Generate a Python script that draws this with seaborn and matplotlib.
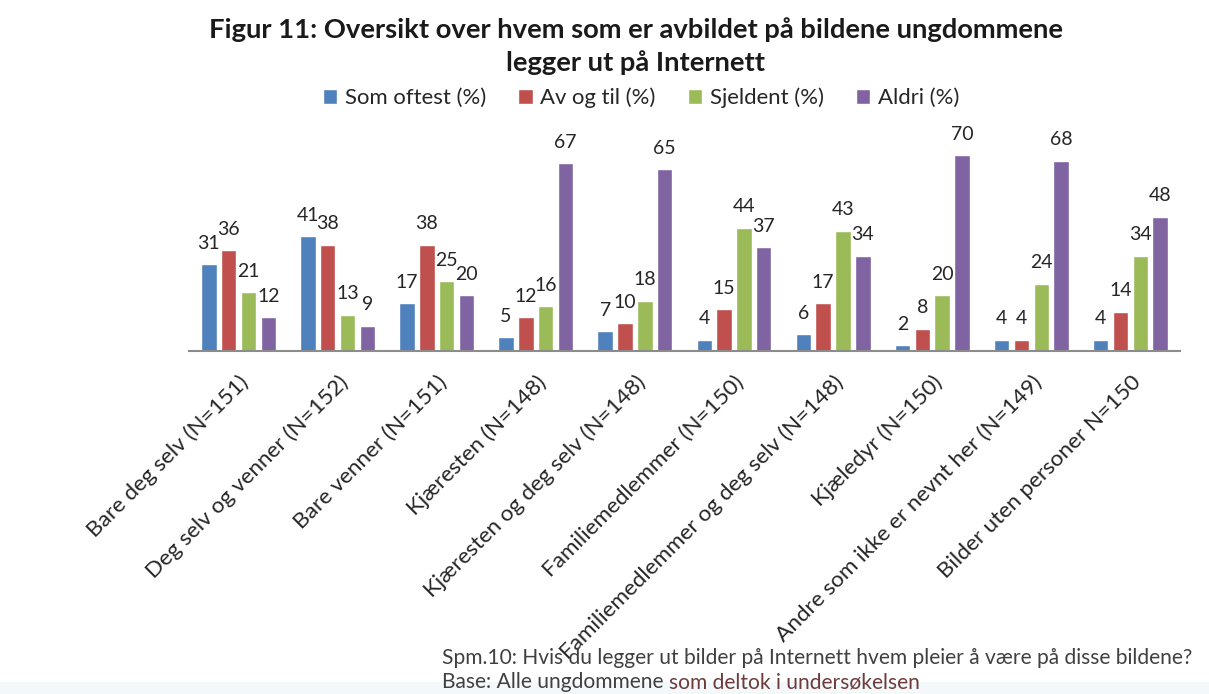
import matplotlib
matplotlib.use("Agg")
import matplotlib.pyplot as plt
from matplotlib.patches import Rectangle
import seaborn as sns
import pandas as pd

# Categories (with sample size) and the four answer series, in percent
categories = [
    "Bare deg selv (N=151)",
    "Deg selv og venner (N=152)",
    "Bare venner (N=151)",
    "Kjæresten (N=148)",
    "Kjæresten og deg selv (N=148)",
    "Familiemedlemmer (N=150)",
    "Familiemedlemmer og deg selv (N=148)",
    "Kjæledyr (N=150)",
    "Andre som ikke er nevnt her (N=149)",
    "Bilder uten personer N=150",
]
series = ["Som oftest (%)", "Av og til (%)", "Sjeldent (%)", "Aldri (%)"]
som_oftest = [31, 41, 17, 5, 7, 4, 6, 2, 4, 4]
av_og_til = [36, 38, 38, 12, 10, 15, 17, 8, 4, 14]
sjeldent = [21, 13, 25, 16, 18, 44, 43, 20, 24, 34]
aldri = [12, 9, 20, 67, 65, 37, 34, 70, 68, 48]

colors = ["#4F81BD", "#C0504D", "#9BBB59", "#8064A2"]

rows = []
for name, vals in zip(series, [som_oftest, av_og_til, sjeldent, aldri]):
    for cat, v in zip(categories, vals):
        rows.append({"kategori": cat, "svar": name, "prosent": v})
df = pd.DataFrame(rows)

sns.set_theme(style="white")
plt.rcParams["font.family"] = ["Lato", "DejaVu Sans"]

fig = plt.figure(figsize=(12.09, 6.94), dpi=100)
ax = fig.add_axes([0.1563, 0.4942, 0.8197, 0.3228])

sns.barplot(
    data=df, x="kategori", y="prosent", hue="svar",
    order=categories, hue_order=series, palette=colors,
    width=0.8, gap=0.22, saturation=1, errorbar=None, ax=ax,
)

for cont in ax.containers:
    ax.bar_label(cont, fmt="%g", padding=9, fontsize=14, color="#262626")

handles, labels = ax.get_legend_handles_labels()
ax.get_legend().remove()

ax.set_ylim(0, 80)
ax.set_xlim(-0.5, len(categories) - 0.5)
ax.set_xlabel("")
ax.set_ylabel("")
ax.set_yticks([])
for side in ["left", "right", "top"]:
    ax.spines[side].set_visible(False)
ax.spines["bottom"].set_color("#8C8C8C")
ax.spines["bottom"].set_linewidth(1.5)
ax.tick_params(axis="x", length=0, pad=15)
ax.set_xticks(range(len(categories)))
ax.set_xticklabels(categories, rotation=45, ha="right", va="top",
                   rotation_mode="anchor", fontsize=16.2, color="#262626")

# Two-line bold heading
fig.text(636 / 1209, 1 - 30 / 694,
         "Figur 11: Oversikt over hvem som er avbildet på bildene ungdommene",
         ha="center", va="center", fontsize=19.7, fontweight="bold", color="#1a1a1a")
fig.text(636 / 1209, 1 - 63 / 694, "legger ut på Internett",
         ha="center", va="center", fontsize=19.7, fontweight="bold", color="#1a1a1a")

fig.legend(handles, labels, loc="center", bbox_to_anchor=(641 / 1209, 1 - 98 / 694),
           ncol=4, frameon=False, fontsize=15.9, handlelength=0.65, handleheight=0.65,
           handletextpad=0.35, columnspacing=1.45, labelcolor="#262626")

# Faint band along the lower edge
fig.add_artist(Rectangle((0, 0), 1, 12 / 694, transform=fig.transFigure,
                         facecolor="#f3f9fb", edgecolor="none", zorder=0))

fig.text(442 / 1209, 1 - 658 / 694,
         "Spm.10: Hvis du legger ut bilder på Internett hvem pleier å være på disse bildene?",
         ha="left", va="center", fontsize=15.1, color="#404040")
base = fig.text(442 / 1209, 1.5 / 694, "Base: Alle ungdommene ",
                ha="left", va="bottom", fontsize=15.1, color="#404040")
fig.canvas.draw()
bb = base.get_window_extent()
fig.text(bb.x1 / fig.bbox.width, 1.5 / 694, "som deltok i undersøkelsen",
         ha="left", va="bottom", fontsize=15.1, color="#6e3a3a")

fig.savefig("out.png", dpi=100, facecolor="white")
